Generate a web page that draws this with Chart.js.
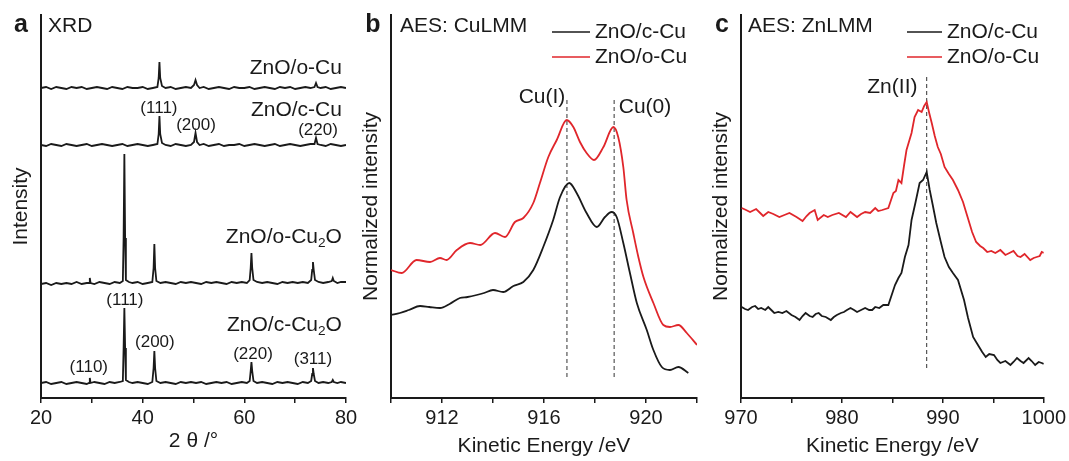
<!DOCTYPE html>
<html>
<head>
<meta charset="utf-8">
<script src="https://cdn.jsdelivr.net/npm/chart.js@4.4.1/dist/chart.umd.min.js"></script>
<style>
  html, body { margin: 0; padding: 0; background: #fff; }
  #wrap { position: relative; width: 1069px; height: 461px; overflow: hidden; }
  canvas { position: absolute; top: 0; }
</style>
</head>
<body>
<div id="wrap">
  <canvas id="chartA" width="370" height="461" style="left:0px"></canvas>
  <canvas id="chartB" width="370" height="461" style="left:350px"></canvas>
  <canvas id="chartC" width="369" height="461" style="left:700px"></canvas>
</div>
<script>
// ---- panel a: XRD, [2theta, intensity a.u.] ----
const xrdOCu = [[20,310],[21,311],[22,309],[23,311],[24,310],[25,309],[26,311],[27,310],[28,311],[29,309],[30,310],[31,311],[32,310],[33,309],[34,311],[35,310],[36,309],[37,311],[38,310],[39,310],[40,311],[41,309],[42,310],[42.9,311],[43.15,320],[43.3,336],[43.45,320],[43.8,312],[44.5,310],[45.5,311],[46.5,309],[47.5,310],[48.5,311],[49.5,310],[50.1,313],[50.4,318],[50.7,313],[51.2,310],[52,311],[53,309],[54,310],[55,311],[56,310],[57,309],[58,311],[59,310],[60,310],[61,311],[62,309],[63,310],[64,311],[65,310],[66,309],[67,311],[68,310],[69,311],[70,309],[71,310],[72,311],[73,310],[73.8,311],[74.1,315],[74.4,311],[75,310],[76,311],[77,309],[78,310],[79,311],[80,310]];
const xrdCCu = [[20,253],[21,252],[22,254],[23,253],[24,252],[25,254],[26,253],[27,252],[28,253],[29,254],[30,252],[31,253],[32,254],[33,253],[34,252],[35,253],[36,254],[37,252],[38,253],[39,254],[40,253],[41,252],[42,253],[42.9,254],[43.15,264],[43.3,282],[43.45,264],[43.8,255],[44.5,253],[45.5,252],[46.5,254],[47.5,253],[48.5,252],[49.5,253],[50.1,256],[50.4,265],[50.7,256],[51.2,253],[52,254],[53,252],[54,253],[55,254],[56,252],[57,253],[58,253],[59,254],[60,252],[61,253],[62,254],[63,253],[64,252],[65,253],[66,254],[67,252],[68,253],[69,254],[70,253],[71,252],[72,253],[73,254],[73.8,254],[74.1,260],[74.4,254],[75,253],[76,252],[77,254],[78,253],[79,252],[80,253]];
const xrdOCu2O = [[20,114],[21,115],[22,113],[23,115],[24,114],[25,115],[26,114],[27,116],[28,114],[29,115],[29.45,115],[29.6,120],[29.75,115],[30.5,114],[31.5,116],[32.5,115],[33.5,114],[34.5,116],[35.5,115],[36.1,117],[36.25,160],[36.4,244],[36.55,160],[36.7,118],[37.3,116],[38,115],[39,116],[40,114],[41,115],[41.9,116],[42.15,130],[42.3,154],[42.45,130],[42.7,117],[43.5,115],[44.5,116],[45.5,115],[46.5,114],[47.5,116],[48.5,115],[49.5,116],[50.5,115],[51.5,114],[52.5,116],[53.5,115],[54.5,116],[55.5,115],[56.5,114],[57.5,116],[58.5,115],[59.5,116],[60.5,115],[61.05,118],[61.25,130],[61.4,145],[61.55,130],[61.8,118],[62.5,116],[63.5,115],[64.5,116],[65.5,115],[66.5,114],[67.5,116],[68.5,115],[69.5,116],[70.5,115],[71.5,116],[72.5,115],[73.15,118],[73.35,128],[73.5,136],[73.65,128],[73.9,118],[74.6,116],[75.5,115],[76.5,116],[77.2,117],[77.4,120],[77.6,117],[78.3,115],[79,116],[80,116]];
const xrdCCu2O = [[20,15],[21,16],[22,14],[23,15],[24,16],[25,14],[26,15],[27,16],[28,15],[29,14],[29.45,15],[29.6,20],[29.75,15],[30.5,16],[31.5,15],[32.5,14],[33.5,16],[34.5,15],[35.5,16],[36.1,17],[36.25,50],[36.4,90],[36.55,50],[36.7,18],[37.3,16],[38,15],[39,16],[40,15],[41,14],[41.9,16],[42.15,30],[42.3,47],[42.45,30],[42.7,17],[43.5,15],[44.5,16],[45.5,15],[46.5,14],[47.5,16],[48.5,15],[49.5,16],[50.5,15],[51.5,16],[52.5,14],[53.5,15],[54.5,16],[55.5,15],[56.5,16],[57.5,14],[58.5,15],[59.5,16],[60.5,15],[61.05,17],[61.25,27],[61.4,36],[61.55,27],[61.8,17],[62.5,15],[63.5,16],[64.5,15],[65.5,14],[66.5,16],[67.5,15],[68.5,16],[69.5,15],[70.5,14],[71.5,16],[72.5,15],[73.15,17],[73.35,24],[73.5,30],[73.65,24],[73.9,17],[74.6,15],[75.5,16],[76.5,15],[77.2,16],[77.4,18],[77.6,16],[78.3,15],[79,16],[80,15]];
const xrdTickLabels = [20, 40, 60, 80];

// ---- panel b: Cu LMM, [kinetic energy eV, intensity] ----
const cuLmmC = [[910.0,83],[910.35,85],[910.7,88],[911.14,92],[911.5,91],[911.92,90],[912.3,94],[912.7,100],[913.0,101],[913.36,103],[913.65,105],[914.0,108],[914.4,106],[914.8,112],[915.19,116],[915.58,128],[915.97,151],[916.36,178],[916.63,201],[916.99,215],[917.28,205],[917.67,185],[918.07,171],[918.39,181],[918.65,186],[918.85,181],[919.11,155],[919.37,125],[919.64,95],[920.03,68],[920.29,48],[920.62,31],[920.94,28],[921.27,31],[921.66,25]];
const cuLmmO = [[910.0,128],[910.42,125],[911.0,138],[911.53,136],[911.92,140],[912.18,138],[912.58,148],[913.1,155],[913.5,153],[914.08,165],[914.47,161],[914.86,176],[915.19,180],[915.58,195],[915.84,215],[916.17,241],[916.5,258],[916.89,278],[917.15,271],[917.41,256],[917.67,245],[917.96,238],[918.33,251],[918.72,271],[918.91,261],[919.11,231],[919.24,198],[919.5,165],[919.7,141],[919.9,121],[920.29,95],[920.68,73],[920.94,71],[921.27,73],[921.6,65],[922.0,53]];
const cuStates = [916.9, 918.75];
const cuDashRange = [21, 298];
const cuTickLabels = [912, 916, 920];

// ---- panel c: Zn LMM ----
const znLmmO = [[970.07,190],[970.5,188],[970.9,186],[971.5,189],[971.9,185],[972.2,182],[972.7,186],[973.2,184],[973.8,181],[974.3,183],[974.8,185],[975.5,181],[976.1,177],[976.5,182],[976.8,185],[977.3,188],[977.6,178],[978.2,183],[978.6,181],[979.05,183],[979.7,185],[980.4,181],[980.85,186],[981.5,181],[981.9,184],[982.3,186],[982.8,185],[983.3,190],[983.6,187],[984.0,188],[984.6,190],[985.1,205],[985.35,207],[985.6,218],[985.9,215],[986.15,232],[986.4,248],[986.9,265],[987.2,281],[987.55,288],[987.9,286],[988.15,292],[988.4,296],[988.65,285],[988.9,275],[989.2,262],[989.5,251],[989.8,244],[990.17,231],[990.6,224],[991.0,218],[991.5,208],[992.0,196],[992.45,181],[992.9,166],[993.3,156],[993.7,152],[994.0,150],[994.4,146],[994.8,147],[995.2,145],[995.7,148],[996.2,143],[996.6,145],[997.0,147],[997.4,142],[997.7,141],[998.1,144],[998.66,138],[999.0,140],[999.3,141],[999.6,142],[999.8,146],[1000,145]];
const znLmmC = [[970.07,91],[970.4,89],[970.7,88],[971.1,91],[971.4,92],[971.7,89],[972.0,90],[972.4,88],[972.7,91],[973.0,88],[973.3,85],[973.7,86],[974.1,85],[974.5,87],[975.0,83],[975.4,81],[975.8,78],[976.1,82],[976.4,85],[976.8,82],[977.1,81],[977.4,84],[977.7,85],[978.0,82],[978.4,81],[978.9,78],[979.2,81],[979.5,83],[979.9,85],[980.2,86],[980.5,88],[980.85,90],[981.2,88],[981.5,86],[981.9,88],[982.3,90],[982.7,88],[983.0,88],[983.3,91],[983.7,90],[984.1,93],[984.6,93],[985.26,113],[985.6,120],[985.9,125],[986.24,141],[986.6,153],[986.9,178],[987.3,196],[987.7,215],[988.04,218],[988.4,226],[988.7,208],[989.0,193],[989.35,175],[989.8,156],[990.17,141],[990.6,131],[991.0,125],[991.5,118],[992.1,98],[992.5,80],[993.0,61],[993.3,56],[993.6,51],[993.9,46],[994.25,41],[994.6,44],[995.07,43],[995.4,38],[995.7,35],[996.2,37],[996.7,33],[997.0,36],[997.35,40],[997.7,37],[998.0,35],[998.5,40],[998.8,37],[999.15,33],[999.5,36],[999.8,35],[1000,34]];
const znState = [988.4];
const znDashRange = [30, 321];
const znTickLabels = [970, 980, 990, 1000];

const FONT = '"Liberation Sans", Arial, sans-serif';
const INK = '#1a1a1a';
const RED = '#e0262b';

// text like "ZnO/o-Cu_2O" -> subscript digit
function drawRich(ctx, text, x, y, size, align) {
  const parts = text.split(/_(\d)/).map((t, i) => ({ t, sub: i % 2 === 1 }));
  let total = 0;
  parts.forEach(p => {
    ctx.font = (p.sub ? size * 0.65 : size) + 'px ' + FONT;
    p.w = ctx.measureText(p.t).width;
    total += p.w;
  });
  let cx = align === 'right' ? x - total : align === 'center' ? x - total / 2 : x;
  ctx.textAlign = 'left';
  parts.forEach(p => {
    ctx.font = (p.sub ? size * 0.65 : size) + 'px ' + FONT;
    ctx.fillText(p.t, cx, y + (p.sub ? size * 0.3 : 0));
    cx += p.w;
  });
}

const figText = {
  id: 'figText',
  afterDraw(chart, args, opts) {
    const ctx = chart.ctx;
    const xs = chart.scales.x, ys = chart.scales.y;
    ctx.save();
    ctx.fillStyle = INK;
    ctx.textBaseline = 'middle';
    // panel letter + title
    ctx.font = 'bold 25px ' + FONT;
    ctx.textAlign = 'center';
    ctx.fillText(opts.letter, opts.letterX, 25);
    drawRich(ctx, opts.title, opts.titleX, 26, 21, 'left');
    // annotations in data units
    (opts.items || []).forEach(it => {
      drawRich(ctx, it.t, xs.getPixelForValue(it.x), ys.getPixelForValue(it.y), it.size || 21, it.align || 'center');
    });
    // legend
    if (opts.legend) {
      const L = opts.legend;
      L.idx.forEach((di, k) => {
        const ds = chart.data.datasets[di];
        const y = L.y + k * 25;
        ctx.strokeStyle = ds.borderColor;
        ctx.lineWidth = 1.5;
        ctx.beginPath();
        ctx.moveTo(L.x1, y);
        ctx.lineTo(L.x2, y);
        ctx.stroke();
        drawRich(ctx, ds.label, L.x2 + 5, y, 21, 'left');
      });
    }
    ctx.restore();
  }
};

function line(label, arr, color, extra) {
  return Object.assign({
    label: label,
    data: arr.map(p => ({ x: p[0], y: p[1] })),
    borderColor: color,
    borderWidth: 1.8,
    pointRadius: 0,
    fill: false,
    tension: 0
  }, extra || {});
}

function dashed(pos, range) {
  return {
    label: '',
    data: [{ x: pos, y: range[0] }, { x: pos, y: range[1] }],
    borderColor: '#333',
    borderWidth: 1,
    borderDash: [4, 3],
    pointRadius: 0,
    fill: false
  };
}

function makePanel(id, cfg) {
  new Chart(document.getElementById(id), {
    type: 'line',
    data: { datasets: cfg.datasets },
    plugins: [figText],
    options: {
      responsive: false,
      animation: false,
      events: [],
      layout: { padding: { top: 15, right: cfg.padRight, bottom: 0, left: 0 } },
      plugins: {
        legend: { display: false },
        tooltip: { enabled: false },
        figText: cfg.text
      },
      scales: {
        x: {
          type: 'linear',
          min: cfg.min,
          max: cfg.max,
          ticks: {
            stepSize: cfg.step,
            autoSkip: false,
            maxRotation: 0,
            color: INK,
            padding: 3,
            font: { family: FONT, size: 20 },
            callback: v => cfg.tickLabels.includes(v) ? String(v) : ''
          },
          grid: { drawOnChartArea: false, drawTicks: true, tickLength: 5, color: INK, lineWidth: 1.5 },
          border: { color: INK, width: 2 },
          title: { display: true, text: cfg.xTitle, color: INK, font: { family: FONT, size: 21 }, padding: { top: 0, bottom: cfg.xTitlePad } },
          afterFit: s => { s.height = 63; }
        },
        y: {
          min: 0,
          max: 383,
          ticks: { display: false },
          grid: { display: false },
          border: { display: true, color: INK, width: 2 },
          title: { display: true, text: cfg.yTitle, color: INK, font: { family: FONT, size: 21 }, padding: { top: 9, bottom: 0 } },
          afterFit: s => { s.width = 41; }
        }
      }
    }
  });
}

makePanel('chartA', {
  min: 20, max: 80, step: 10, tickLabels: xrdTickLabels, padRight: 24,
  xTitle: '2 \u03b8 /\u00b0', xTitlePad: 7, yTitle: 'Intensity',
  datasets: [
    line('ZnO/o-Cu', xrdOCu, INK),
    line('ZnO/c-Cu', xrdCCu, INK),
    line('ZnO/o-Cu2O', xrdOCu2O, INK),
    line('ZnO/c-Cu2O', xrdCCu2O, INK)
  ],
  text: {
    letter: 'a', letterX: 21, title: 'XRD', titleX: 48,
    items: [
      { t: 'ZnO/o-Cu', x: 79.2, y: 330, align: 'right' },
      { t: 'ZnO/c-Cu', x: 79.2, y: 288, align: 'right' },
      { t: '(111)', x: 43.2, y: 290, size: 17 },
      { t: '(200)', x: 50.5, y: 273, size: 17 },
      { t: '(220)', x: 74.5, y: 268, size: 17 },
      { t: 'ZnO/o-Cu_2O', x: 79.2, y: 161, align: 'right' },
      { t: '(111)', x: 36.5, y: 98, size: 17 },
      { t: 'ZnO/c-Cu_2O', x: 79.2, y: 73, align: 'right' },
      { t: '(200)', x: 42.4, y: 56, size: 17 },
      { t: '(110)', x: 29.4, y: 31, size: 17 },
      { t: '(220)', x: 61.7, y: 44, size: 17 },
      { t: '(311)', x: 73.5, y: 39, size: 17 }
    ]
  }
});

makePanel('chartB', {
  min: 910, max: 922, step: 2, tickLabels: cuTickLabels, padRight: 23,
  xTitle: 'Kinetic Energy /eV', xTitlePad: 2, yTitle: 'Normalized intensity',
  datasets: [
    line('ZnO/c-Cu', cuLmmC, INK, { cubicInterpolationMode: 'monotone' }),
    line('ZnO/o-Cu', cuLmmO, RED, { cubicInterpolationMode: 'monotone' }),
    dashed(cuStates[0], cuDashRange),
    dashed(cuStates[1], cuDashRange)
  ],
  text: {
    letter: 'b', letterX: 23, title: 'AES: CuLMM', titleX: 50,
    legend: { idx: [0, 1], x1: 202, x2: 240, y: 32 },
    items: [
      { t: 'Cu(I)', x: 915.92, y: 301 },
      { t: 'Cu(0)', x: 919.96, y: 291 }
    ]
  }
});

makePanel('chartC', {
  min: 970, max: 1000, step: 5, tickLabels: znTickLabels, padRight: 22,
  xTitle: 'Kinetic Energy /eV', xTitlePad: 2, yTitle: 'Normalized intensity',
  datasets: [
    line('ZnO/c-Cu', znLmmC, INK),
    line('ZnO/o-Cu', znLmmO, RED),
    dashed(znState[0], znDashRange)
  ],
  text: {
    letter: 'c', letterX: 22, title: 'AES: ZnLMM', titleX: 48,
    legend: { idx: [0, 1], x1: 207, x2: 242, y: 32 },
    items: [
      { t: 'Zn(II)', x: 985.0, y: 311 }
    ]
  }
});
</script>
</body>
</html>
